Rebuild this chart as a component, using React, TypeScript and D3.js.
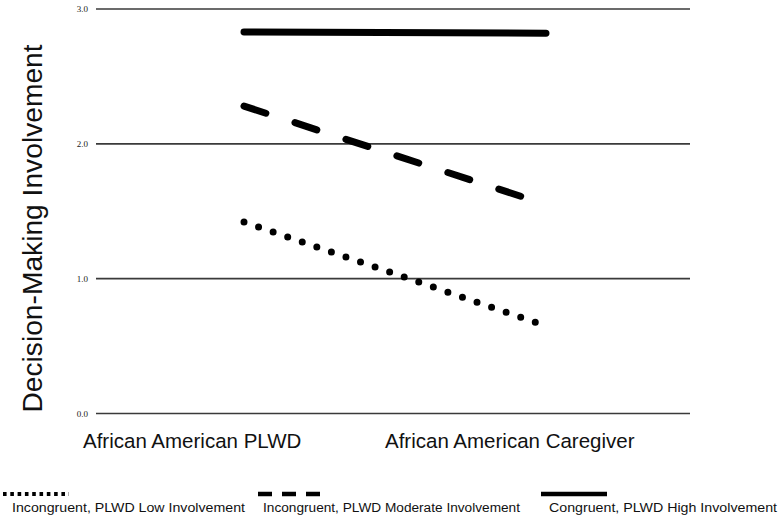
import React from "react";
import * as d3 from "d3";

const categories = ["African American PLWD", "African American Caregiver"];
const seriesNames = [
  "Incongruent, PLWD Low Involvement",
  "Incongruent, PLWD Moderate Involvement",
  "Congruent, PLWD High Involvement",
];
const lowValues = [1.42, 0.65];
const moderateValues = [2.28, 1.55];
const highValues = [2.83, 2.82];
const yTicks = [0, 1, 2, 3];
const yTitle = "Decision-Making Involvement";

const W = 779;
const H = 517;

export default function App() {
  const x = d3.scalePoint<string>().domain(categories).range([244, 546]);
  const y = d3.scaleLinear().domain([0, 3]).range([413.5, 9]);
  const line = d3
    .line<number>()
    .x((_, i) => x(categories[i]) as number)
    .y((d) => y(d));

  const series = [
    { name: seriesNames[0], values: lowValues, dash: "0 15.4", legendDash: "3.6 3.7", lw: 3.8 },
    { name: seriesNames[1], values: moderateValues, dash: "23 30.6", legendDash: "14 10", lw: 4.5 },
    { name: seriesNames[2], values: highValues, dash: null as string | null, legendDash: null as string | null, lw: 4.5 },
  ];
  const legendX = [
    { mx0: 3, mx1: 69, tx: 12, tw: 233 },
    { mx0: 258, mx1: 323, tx: 263, tw: 257 },
    { mx0: 541, mx1: 607, tx: 549, tw: 228 },
  ];

  return (
    <svg
      width={W}
      height={H}
      style={{ position: "absolute", left: 0, top: 0, background: "#fff" }}
    >
      {yTicks.map((t) => (
        <g key={t}>
          <line x1={96} x2={690} y1={y(t)} y2={y(t)} stroke="#3a3a3a" strokeWidth={1.6} />
          <text
            x={88}
            y={y(t) + 3}
            textAnchor="end"
            fontFamily="'Liberation Serif', serif"
            fontSize={9}
            fill="#222"
          >
            {t.toFixed(1)}
          </text>
        </g>
      ))}
      <text
        transform={`translate(42,${228.5}) rotate(-90)`}
        textAnchor="middle"
        fontFamily="'Liberation Sans', Arial, sans-serif"
        fontSize={28.2}
        fill="#111"
      >
        {yTitle}
      </text>
      {categories.map((c) => (
        <text
          key={c}
          x={(x(c) as number) - 161}
          y={448}
          fontFamily="'Liberation Sans', Arial, sans-serif"
          fontSize={20.5}
          fill="#111"
        >
          {c}
        </text>
      ))}
      {series.map((s) => (
        <path
          key={s.name}
          d={line(s.values) || ""}
          fill="none"
          stroke="#000"
          strokeWidth={7}
          strokeLinecap="round"
          strokeDasharray={s.dash || undefined}
        />
      ))}
      {series.map((s, i) => (
        <g key={"lg" + i}>
          <line
            x1={legendX[i].mx0}
            x2={legendX[i].mx1}
            y1={494}
            y2={494}
            stroke="#000"
            strokeWidth={s.lw}
            strokeLinecap="butt"
            strokeDasharray={s.legendDash || undefined}
          />
          <text
            x={legendX[i].tx}
            y={512}
            textLength={legendX[i].tw}
            lengthAdjust="spacingAndGlyphs"
            fontFamily="'Liberation Sans', Arial, sans-serif"
            fontSize={12}
            fill="#111"
          >
            {s.name}
          </text>
        </g>
      ))}
    </svg>
  );
}
